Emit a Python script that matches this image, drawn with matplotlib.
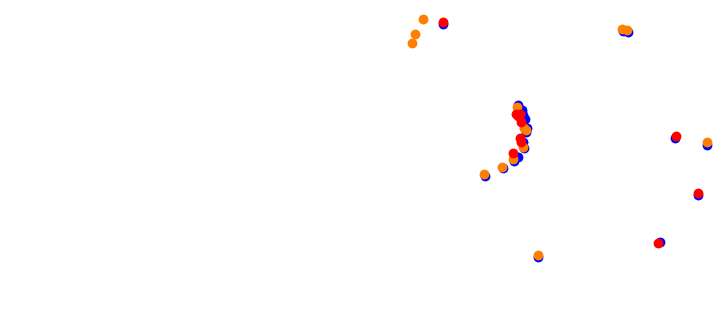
import matplotlib
matplotlib.use("Agg")
import matplotlib.pyplot as plt

blue_x = [443, 623, 628, 675, 707, 698, 660, 538, 485, 503, 514, 518, 524, 523, 526, 527, 525, 523, 518, 522]
blue_y = [24, 31, 32, 138, 145, 195, 242, 257, 176, 168, 161, 157, 148, 142, 132, 128, 119, 115, 105, 110]

red_x = [443, 676, 698, 658, 513, 521, 520, 521, 516, 520, 518]
red_y = [22, 136, 193, 243, 153, 142, 138, 122, 114, 114, 116]

orange_x = [423, 415, 412, 622, 627, 707, 538, 484, 502, 513, 523, 526, 524, 517]
orange_y = [19, 34, 43, 29, 30, 142, 255, 174, 167, 159, 147, 130, 128, 107]

fig = plt.figure(figsize=(7.14, 3.10), dpi=100)
ax = fig.add_axes([0, 0, 1, 1])
ax.set_xlim(0, 714)
ax.set_ylim(310, 0)
ax.axis("off")

s = 50
ax.scatter(blue_x, blue_y, s=s, c="#0000ff", linewidths=0, zorder=1)
ax.scatter(orange_x, orange_y, s=s, c="#ff8000", linewidths=0, zorder=2)
ax.scatter(red_x, red_y, s=s, c="#ff0000", linewidths=0, zorder=3)

fig.savefig("out.png", dpi=100)
